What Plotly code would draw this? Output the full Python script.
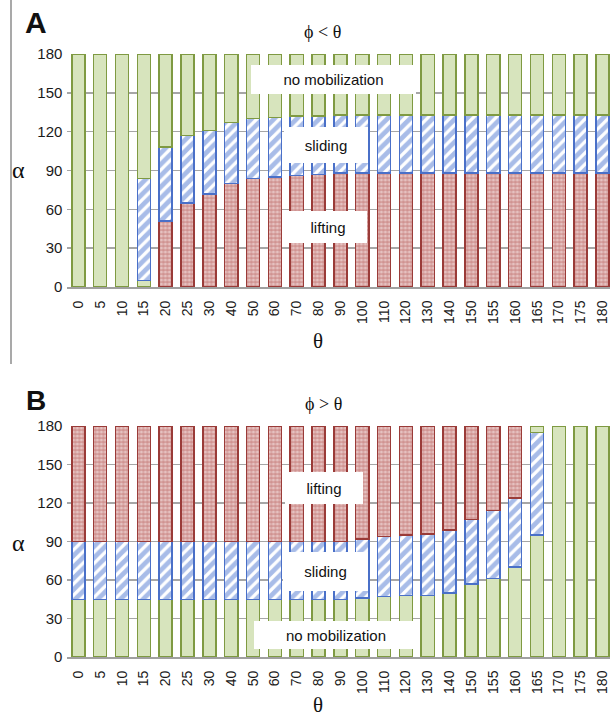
import numpy as np
import plotly.graph_objects as go

W, H = 610, 718

theta_labels = ["0", "5", "10", "15", "20", "25", "30", "40", "50", "60", "70", "80", "90",
                "100", "110", "120", "130", "140", "150", "155", "160", "165", "170", "175", "180"]

# Panel A (phi < theta): boundaries (alpha)
A_nomob_low_top = [0, 0, 0, 5, 0, 0, 0, 0, 0, 0, 0, 0, 0, 0, 0, 0, 0, 0, 0, 0, 0, 0, 0, 0, 0]
A_lifting_top   = [0, 0, 0, 5, 51, 65, 72, 80, 84, 85, 86, 87, 88, 88, 88, 88, 88, 88, 88, 88, 88, 88, 88, 88, 88]
A_sliding_top   = [0, 0, 0, 84, 108, 117, 121, 127, 130, 131, 132, 132, 133, 133, 133, 133, 133, 133, 133, 133, 133, 133, 133, 133, 133]
A_max = 180

# Panel B (phi > theta): boundaries
B_nomob_low_top = [45, 45, 45, 45, 45, 45, 45, 45, 45, 45, 45, 45, 45, 46, 47, 48, 48, 50, 57, 61, 70, 95, 180, 180, 180]
B_sliding_top   = [90, 90, 90, 90, 90, 90, 90, 90, 90, 90, 90, 90, 90, 92, 94, 95, 96, 99, 107, 114, 124, 175, 180, 180, 180]
B_lifting_top   = [180, 180, 180, 180, 180, 180, 180, 180, 180, 180, 180, 180, 180, 180, 180, 180, 180, 180, 180, 180, 180, 175, 180, 180, 180]
B_max = 180

GREEN_FILL, GREEN_LINE = "#d7e4bd", "#7f9a42"
RED_BG, RED_DOT, RED_LINE = "#d09391", "#faf0f0", "#9a3b38"
BLUE_FG, BLUE_LINE = "#5179d2", "#4a70c8"


def seg(top, bottom):
    h = np.array(top, float) - np.array(bottom, float)
    return [float(v) if v > 0 else None for v in h]


def green(y, xa, ya):
    return go.Bar(x=theta_labels, y=y, xaxis=xa, yaxis=ya, width=0.6,
                  marker=dict(color=GREEN_FILL, line=dict(color=GREEN_LINE, width=1.5)),
                  showlegend=False, hoverinfo="skip")


def lifting(y, xa, ya):
    return go.Bar(x=theta_labels, y=y, xaxis=xa, yaxis=ya, width=0.6,
                  marker=dict(color=RED_BG, line=dict(color=RED_LINE, width=1.5),
                              pattern=dict(shape=".", fillmode="overlay", fgcolor=RED_DOT,
                                           size=4, solidity=0.5)),
                  showlegend=False, hoverinfo="skip")


def sliding(y, xa, ya):
    return go.Bar(x=theta_labels, y=y, xaxis=xa, yaxis=ya, width=0.6,
                  marker=dict(color="white", line=dict(color=BLUE_LINE, width=1.5),
                              pattern=dict(shape="/", fillmode="overlay", fgcolor=BLUE_FG,
                                           size=8, solidity=0.6)),
                  showlegend=False, hoverinfo="skip")


zeros = [0] * len(theta_labels)
fig = go.Figure()
# Panel A stack: green low, lifting, sliding, green top
fig.add_trace(green(seg(A_nomob_low_top, zeros), "x", "y"))
fig.add_trace(lifting(seg(A_lifting_top, A_nomob_low_top), "x", "y"))
fig.add_trace(sliding(seg(A_sliding_top, A_lifting_top), "x", "y"))
fig.add_trace(green(seg([A_max] * len(theta_labels), A_sliding_top), "x", "y"))
# Panel B stack: green low, sliding, lifting, green top
fig.add_trace(green(seg(B_nomob_low_top, zeros), "x2", "y2"))
fig.add_trace(sliding(seg(B_sliding_top, B_nomob_low_top), "x2", "y2"))
fig.add_trace(lifting(seg(B_lifting_top, B_sliding_top), "x2", "y2"))
fig.add_trace(green(seg([B_max] * len(theta_labels), B_lifting_top), "x2", "y2"))


def px(x):
    return x / W


def py(y):
    return 1 - y / H


xleft = 67.4
pitch = 21.84
xr = [-0.5, -0.5 + (W - xleft) / pitch]

axis_font = dict(family="Liberation Sans, Arial", size=14, color="#1a1a1a")
xcommon = dict(type="category", range=xr, domain=[px(xleft), 1], tickangle=-90,
               tickfont=axis_font, showline=True, linecolor="#a0a0a0", linewidth=2,
               showgrid=False, ticks="", ticklabelstandoff=6, fixedrange=True,
               automargin=False)
ycommon = dict(range=[0, 180], tickvals=[0, 30, 60, 90, 120, 150, 180], showgrid=True,
               gridcolor="#a6a6a6", gridwidth=1.5, zeroline=False, ticks="",
               tickfont=dict(family="Liberation Sans, Arial", size=15, color="#1a1a1a"),
               ticklabelstandoff=4, fixedrange=True, automargin=False)

fig.update_layout(
    template="none",
    width=W, height=H, barmode="stack", bargap=0.4,
    paper_bgcolor="white", plot_bgcolor="white",
    margin=dict(l=0, r=0, t=0, b=0, pad=0, autoexpand=False),
    xaxis=dict(**xcommon, anchor="y"),
    yaxis=dict(**ycommon, domain=[py(287), py(54)], anchor="x"),
    xaxis2=dict(**xcommon, anchor="y2"),
    yaxis2=dict(**ycommon, domain=[py(657), py(426)], anchor="x2"),
)

ann = []


def box(text, cx, cy, w, h):
    ann.append(dict(text=text, x=px(cx), y=py(cy), xref="paper", yref="paper",
                    xanchor="center", yanchor="middle", showarrow=False,
                    width=w, height=h, bgcolor="white", borderpad=0, borderwidth=0,
                    font=dict(family="Liberation Sans, Arial", size=15, color="#111")))


box("no mobilization", 333, 79, 165, 29)
box("sliding", 326, 145, 84, 36)
box("lifting", 328, 227, 78, 32)
box("lifting", 324, 488, 78, 32)
box("sliding", 325, 571, 85, 39)
box("no mobilization", 336, 635, 164, 28)


def label(text, cx, cy, size, family, bold=False):
    ann.append(dict(text=f"<b>{text}</b>" if bold else text, x=px(cx), y=py(cy),
                    xref="paper", yref="paper", xanchor="center", yanchor="middle",
                    showarrow=False, font=dict(family=family, size=size, color="#111")))


SERIF = "Liberation Serif, Times New Roman"
SANS = "Liberation Sans, Arial"
label("A", 36, 23, 30, SANS, bold=True)
label("B", 36, 400, 28, SANS, bold=True)
label("ϕ < θ", 322, 32, 18, SERIF)
label("ϕ > θ", 324, 404, 18, SERIF)
label("α", 18, 170, 24, SERIF)
label("α", 18, 543, 24, SERIF)
label("θ", 318, 341, 21, SERIF)
label("θ", 318, 705, 21, SERIF)

fig.update_layout(annotations=ann)
fig.add_shape(type="line", xref="paper", yref="paper", x0=px(11), x1=px(11),
              y0=1, y1=py(364), line=dict(color="#8c8c8c", width=1.5))

fig.write_html(
    "out.html",
    config={"displayModeBar": False, "staticPlot": True},
    post_script="document.body.style.margin='0';document.body.style.padding='0';"
                "document.documentElement.style.overflow='hidden';",
)
